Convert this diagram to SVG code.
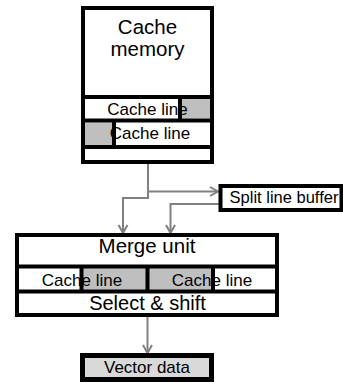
<svg xmlns="http://www.w3.org/2000/svg" width="343" height="382" viewBox="0 0 343 382">
<defs>
<style>
.box{fill:#fff;stroke:#000;stroke-width:4}
.sep{stroke:#000;stroke-width:4;fill:none}
.gray{fill:#bfbfbf}
.t{font-family:"Liberation Sans",Arial,sans-serif;fill:#000;text-anchor:middle}
.conn{fill:none;stroke:#808080;stroke-width:2}
</style>
<marker id="arr" markerUnits="userSpaceOnUse" markerWidth="12" markerHeight="13" viewBox="-2 -2 12 13" refX="8" refY="4.5" orient="auto">
<path d="M0,0 L8,4.5 L0,9" fill="none" stroke="#808080" stroke-width="2"/>
</marker>
</defs>
<g id="connectors">
<path class="conn" d="M148,164 V198 H123 V233" marker-end="url(#arr)"/>
<path class="conn" d="M148,191.5 H218" marker-end="url(#arr)"/>
<path class="conn" d="M219,204 H170.5 V233" marker-end="url(#arr)"/>
<path class="conn" d="M147.5,317 V353" marker-end="url(#arr)"/>
</g>
<g id="cache-memory">
<rect class="box" x="83" y="8" width="129" height="154"/>
<rect class="gray" x="180" y="99" width="30" height="19.5"/>
<rect class="gray" x="85" y="122.5" width="29" height="22.5"/>
<text class="t" x="147.5" y="33.5" font-size="20.5">Cache</text>
<text class="t" x="147.5" y="55.5" font-size="20.5">memory</text>
<text class="t" x="147.5" y="115" font-size="17">Cache line</text>
<text class="t" x="150" y="139" font-size="17">Cache line</text>
<path class="sep" d="M83,97 H212 M83,120.5 H212 M83,147 H212 M180,99 V118.5 M114,122.5 V145"/>
</g>
<g id="split-line-buffer">
<rect class="box" x="220.5" y="186" width="121" height="24"/>
<text class="t" x="284" y="203" font-size="16.5">Split line buffer</text>
</g>
<g id="merge-unit">
<rect class="box" x="17" y="235" width="260" height="80"/>
<rect class="gray" x="83" y="268" width="63" height="22"/>
<rect class="gray" x="149" y="268" width="63" height="22"/>
<text class="t" x="147" y="253" font-size="20.5">Merge unit</text>
<text class="t" x="82" y="285.5" font-size="17">Cache line</text>
<text class="t" x="212" y="285.5" font-size="17">Cache line</text>
<text class="t" x="147.5" y="310" font-size="20">Select &amp; shift</text>
<path class="sep" d="M17,266.5 H277 M17,291.5 H277 M147.5,266.5 V291.5"/>
<path class="sep" stroke-width="3.5" d="M81.5,268 V290 M213,268 V290"/>
</g>
<g id="vector-data">
<rect x="82.5" y="355.5" width="129" height="24" fill="#d9d9d9" stroke="#000" stroke-width="5"/>
<text class="t" x="147" y="372.5" font-size="17">Vector data</text>
</g>
</svg>
